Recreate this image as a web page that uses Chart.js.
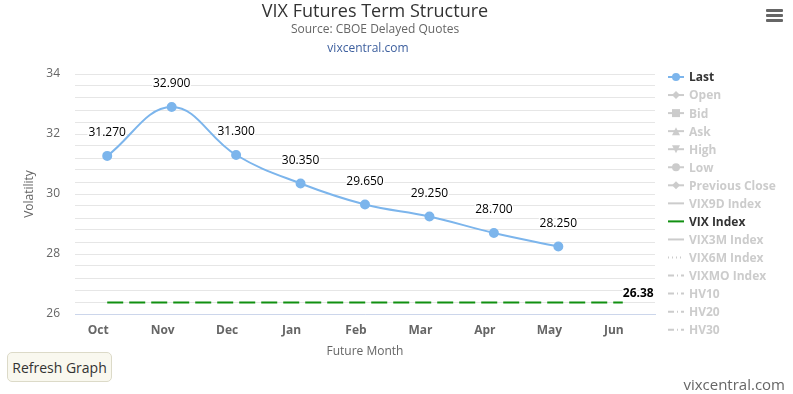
<!DOCTYPE html>
<html>
<head>
<meta charset="utf-8">
<script src="https://cdn.jsdelivr.net/npm/chart.js@4"></script>
<style>
  html, body { margin: 0; padding: 0; background: #fff; }
  #wrap { position: relative; width: 793px; height: 394px; overflow: hidden; font-family: "Open Sans", sans-serif; }
  #termChart { position: absolute; left: 0; top: 0; }
  #refresh {
    position: absolute; left: 7px; top: 352px; width: 105px; height: 30px;
    background: #f9f8ef; border: 1px solid #dcdac8; border-radius: 5px;
    font: 14px "Open Sans", sans-serif; color: #333; padding: 0;
  }
  #menu { position: absolute; left: 766px; top: 9px; width: 17px; }
  #menu div { height: 3px; background: #666; margin-bottom: 2px; border-radius: 1px; }
  #site { position: absolute; right: 8px; top: 374px; font-size: 15px; color: #666; }
</style>
</head>
<body>
<div id="wrap">
  <canvas id="termChart" width="793" height="394"></canvas>
  <button id="refresh">Refresh Graph</button>
  <div id="menu"><div></div><div></div><div></div></div>
  <div id="site">vixcentral.com</div>
</div>
<script>
// VIX futures term structure (last prices by contract month)
const months = ['Oct', 'Nov', 'Dec', 'Jan', 'Feb', 'Mar', 'Apr', 'May', 'Jun'];
const lastPrices = [31.27, 32.9, 31.3, 30.35, 29.65, 29.25, 28.7, 28.25, null];
const vixIndex = [26.38, 26.38, 26.38, 26.38, 26.38, 26.38, 26.38, 26.38, 26.38];
const yTicks = [26, 28, 30, 32, 34];

const legendItems = [
  { name: 'Last', on: true, marker: 'circle', color: '#7cb5ec' },
  { name: 'Open', marker: 'diamond' },
  { name: 'Bid', marker: 'square' },
  { name: 'Ask', marker: 'triangle' },
  { name: 'High', marker: 'triangle-down' },
  { name: 'Low', marker: 'circle' },
  { name: 'Previous Close', marker: 'diamond' },
  { name: 'VIX9D Index', dash: [] },
  { name: 'VIX Index', on: true, dash: [], color: '#119011' },
  { name: 'VIX3M Index', dash: [] },
  { name: 'VIX6M Index', dash: [1, 3] },
  { name: 'VIXMO Index', dash: [6, 3, 1, 3] },
  { name: 'HV10', dash: [6, 3, 1, 3] },
  { name: 'HV20', dash: [6, 3, 1, 3] },
  { name: 'HV30', dash: [6, 3, 1, 3] }
];

const FONT = '"Open Sans", sans-serif';

function drawMarker(ctx, type, x, y, r) {
  ctx.beginPath();
  if (type === 'circle') {
    ctx.arc(x, y, r, 0, Math.PI * 2);
  } else if (type === 'square') {
    ctx.rect(x - r, y - r, 2 * r, 2 * r);
  } else if (type === 'diamond') {
    ctx.moveTo(x, y - r); ctx.lineTo(x + r, y); ctx.lineTo(x, y + r); ctx.lineTo(x - r, y);
  } else if (type === 'triangle') {
    ctx.moveTo(x, y - r); ctx.lineTo(x + r, y + r); ctx.lineTo(x - r, y + r);
  } else if (type === 'triangle-down') {
    ctx.moveTo(x - r, y - r); ctx.lineTo(x + r, y - r); ctx.lineTo(x, y + r);
  }
  ctx.closePath();
  ctx.fill();
}

const decorPlugin = {
  id: 'decor',
  afterDatasetsDraw(chart) {
    const ctx = chart.ctx;
    const area = chart.chartArea;
    ctx.save();

    // titles
    ctx.textAlign = 'center';
    ctx.textBaseline = 'middle';
    ctx.fillStyle = '#333';
    ctx.font = '18px ' + FONT;
    ctx.fillText('VIX Futures Term Structure', 375, 12);
    ctx.fillStyle = '#666';
    ctx.font = '12px ' + FONT;
    ctx.fillText('Source: CBOE Delayed Quotes', 375, 30);
    ctx.fillStyle = '#3d5f9e';
    ctx.fillText('vixcentral.com', 368, 49);

    // axis titles
    ctx.fillStyle = '#666';
    ctx.fillText('Future Month', (area.left + area.right) / 2, 352);
    ctx.save();
    ctx.translate(30, (area.top + area.bottom) / 2);
    ctx.rotate(-Math.PI / 2);
    ctx.fillText('Volatility', 0, 0);
    ctx.restore();

    // data labels for Last
    const meta = chart.getDatasetMeta(0);
    ctx.font = '12px ' + FONT;
    ctx.lineJoin = 'round';
    meta.data.forEach((pt, i) => {
      if (lastPrices[i] == null) return;
      const txt = lastPrices[i].toFixed(3);
      ctx.strokeStyle = '#fff';
      ctx.lineWidth = 3;
      ctx.strokeText(txt, pt.x, pt.y - 23);
      ctx.fillStyle = '#000';
      ctx.fillText(txt, pt.x, pt.y - 23);
    });

    // VIX index end label
    const vmeta = chart.getDatasetMeta(1);
    const lastPt = vmeta.data[vmeta.data.length - 1];
    ctx.textAlign = 'left';
    ctx.font = 'bold 12px ' + FONT;
    ctx.strokeStyle = '#fff';
    ctx.lineWidth = 3;
    ctx.strokeText(vixIndex[vixIndex.length - 1].toFixed(2), lastPt.x, lastPt.y - 9);
    ctx.fillStyle = '#000';
    ctx.fillText(vixIndex[vixIndex.length - 1].toFixed(2), lastPt.x, lastPt.y - 9);

    // legend
    ctx.font = 'bold 12px ' + FONT;
    legendItems.forEach((item, i) => {
      const y = 77 + i * 18.05;
      const col = item.on ? item.color : '#cccccc';
      ctx.strokeStyle = col;
      ctx.fillStyle = col;
      ctx.lineWidth = 2;
      ctx.setLineDash(item.dash || []);
      ctx.beginPath();
      ctx.moveTo(668, y);
      ctx.lineTo(684, y);
      ctx.stroke();
      ctx.setLineDash([]);
      if (item.marker) drawMarker(ctx, item.marker, 676, y, 4);
      ctx.fillStyle = item.on ? '#333' : '#cccccc';
      ctx.textAlign = 'left';
      ctx.fillText(item.name, 689, y + 1);
    });

    ctx.restore();
  }
};

new Chart(document.getElementById('termChart'), {
  type: 'line',
  data: {
    labels: months,
    datasets: [
      {
        label: 'Last',
        data: lastPrices,
        borderColor: '#7cb5ec',
        backgroundColor: '#7cb5ec',
        borderWidth: 2,
        pointRadius: 4,
        pointHoverRadius: 4,
        tension: 0.4,
        spanGaps: false
      },
      {
        label: 'VIX Index',
        data: vixIndex,
        borderColor: '#119011',
        borderWidth: 2,
        borderDash: [16, 6],
        pointRadius: 0,
        tension: 0
      }
    ]
  },
  options: {
    responsive: false,
    animation: false,
    layout: { padding: { left: 0, right: 138, top: 74, bottom: 0 } },
    plugins: {
      legend: { display: false },
      title: { display: false },
      tooltip: { enabled: false }
    },
    scales: {
      x: {
        offset: true,
        grid: { display: false, drawTicks: false },
        border: { display: true, color: '#ccd6eb', width: 1 },
        ticks: {
          padding: 9,
          labelOffset: -9,
          color: '#666',
          font: { family: FONT, size: 12, weight: 'bold' }
        },
        afterFit(scale) { scale.height = 80; }
      },
      y: {
        min: 26,
        max: 34,
        grid: { color: '#e6e6e6', drawTicks: false },
        border: { display: false },
        ticks: {
          stepSize: 0.4,
          autoSkip: false,
          padding: 15,
          color: '#666',
          font: { family: FONT, size: 12 },
          callback(v) {
            const r = Math.round(v);
            return Math.abs(v - r) < 1e-6 && yTicks.includes(r) ? String(r) : '';
          }
        },
        afterFit(scale) { scale.width = 75; }
      }
    }
  },
  plugins: [decorPlugin]
});
</script>
</body>
</html>
